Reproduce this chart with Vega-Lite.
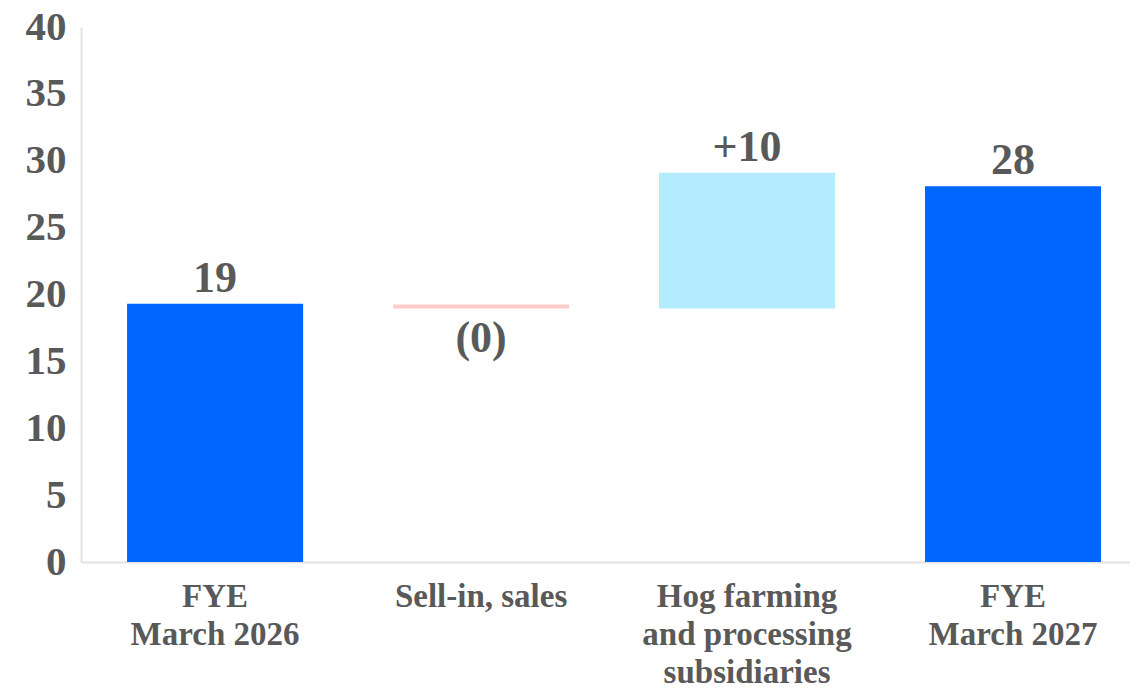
{
  "$schema": "https://vega.github.io/schema/vega-lite/v6.json",
  "autosize": {"type": "none"},
  "width": 1049,
  "height": 535,
  "padding": {"left": 81, "top": 27, "right": 0, "bottom": 128},
  "background": "white",
  "config": {
    "view": {"stroke": null},
    "font": "Liberation Serif"
  },
  "data": {
    "values": [
      {"cat": "FYE|March 2026", "start": 0, "end": 19.3, "label": "19", "kind": "total", "dir": "up"},
      {"cat": "Sell-in, sales", "start": 19.25, "end": 18.95, "label": "(0)", "kind": "decrease", "dir": "down"},
      {"cat": "Hog farming|and processing|subsidiaries", "start": 18.95, "end": 29.1, "label": "+10", "kind": "increase", "dir": "up"},
      {"cat": "FYE|March 2027", "start": 0, "end": 28.1, "label": "28", "kind": "total", "dir": "up"}
    ]
  },
  "encoding": {
    "x": {
      "field": "cat",
      "type": "nominal",
      "sort": null,
      "scale": {"paddingInner": 0.338, "paddingOuter": 0.141, "align": 0.614},
      "axis": {
        "title": null,
        "labelAngle": 0,
        "labelExpr": "split(datum.value, '|')",
        "labelFont": "Liberation Serif",
        "labelFontWeight": "bold",
        "labelFontSize": 33,
        "labelLineHeight": 38,
        "labelLimit": 0,
        "labelColor": "#595959",
        "labelPadding": 18,
        "ticks": false,
        "domainColor": "#e3e3e3",
        "domainWidth": 2
      }
    }
  },
  "layer": [
    {
      "mark": {"type": "bar"},
      "encoding": {
        "y": {
          "field": "end",
          "type": "quantitative",
          "scale": {"domain": [0, 40], "nice": false},
          "axis": {
            "title": null,
            "values": [0, 5, 10, 15, 20, 25, 30, 35, 40],
            "grid": false,
            "ticks": false,
            "labelFont": "Liberation Serif",
            "labelFontWeight": "bold",
            "labelFontSize": 41,
            "labelColor": "#595959",
            "labelPadding": 15,
            "domainColor": "#e3e3e3",
            "domainWidth": 2
          }
        },
        "y2": {"field": "start"},
        "color": {
          "field": "kind",
          "type": "nominal",
          "scale": {"domain": ["total", "decrease", "increase"], "range": ["#0066ff", "#ffcccc", "#b3ecff"]},
          "legend": null
        }
      }
    },
    {
      "transform": [{"filter": "datum.dir == 'up'"}],
      "mark": {"type": "text", "baseline": "alphabetic", "dy": -12, "font": "Liberation Serif", "fontWeight": "bold", "fontSize": 44, "color": "#595959"},
      "encoding": {
        "y": {"field": "end", "type": "quantitative"},
        "text": {"field": "label"}
      }
    },
    {
      "transform": [{"filter": "datum.dir == 'down'"}],
      "mark": {"type": "text", "baseline": "top", "dy": 8, "font": "Liberation Serif", "fontWeight": "bold", "fontSize": 44, "color": "#595959"},
      "encoding": {
        "y": {"field": "end", "type": "quantitative"},
        "text": {"field": "label"}
      }
    }
  ]
}
